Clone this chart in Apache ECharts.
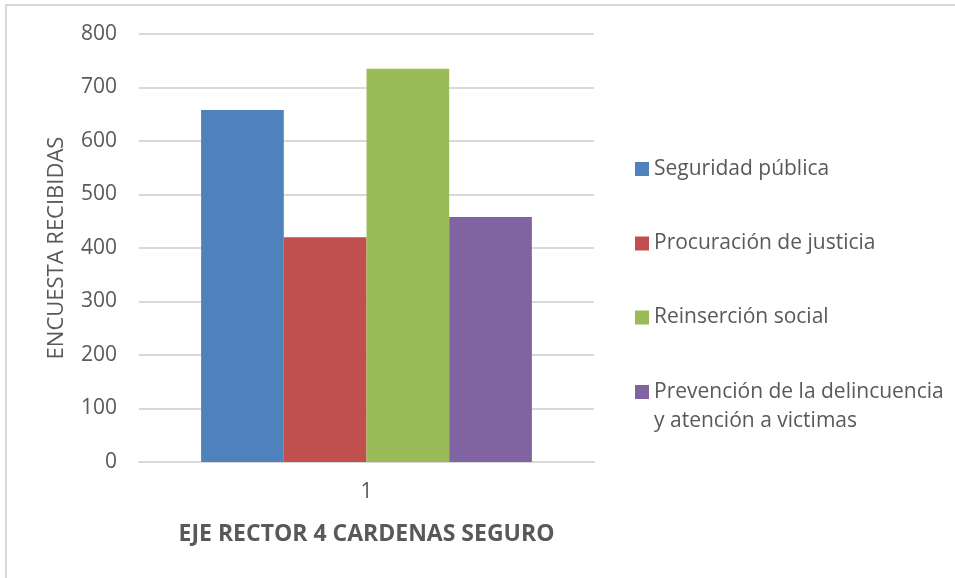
<!DOCTYPE html>
<html>
<head>
<meta charset="utf-8">
<script src="https://cdn.jsdelivr.net/npm/echarts@6/dist/echarts.min.js"></script>
<style>
html,body{margin:0;padding:0;background:#fff;}
#chart{width:955px;height:578px;}
</style>
</head>
<body>
<div id="chart"></div>
<script>
var categories = ['1'];
var seriesNames = ['Seguridad pública', 'Procuración de justicia', 'Reinserción social', 'Prevención de la delincuencia\ny atención a victimas'];
var seriesValues = [658, 420, 735, 458];
var seriesColors = ['#4f81bd', '#c0504d', '#9bbb59', '#8064a2'];
var yTicks = [0, 100, 200, 300, 400, 500, 600, 700, 800];
var xTitle = 'EJE RECTOR 4 CARDENAS SEGURO';
var yTitle = 'ENCUESTA RECIBIDAS';

var FONT = 'Open Sans';
var chart = echarts.init(document.getElementById('chart'));
var legendTops = [154.5, 229, 303, 348.5];
var option = {
  backgroundColor: '#fff',
  animation: false,
  graphic: [{
    type: 'rect', silent: true,
    shape: {x: 6, y: 5, width: 1200, height: 1200},
    style: {fill: 'none', stroke: '#d9d9d9', lineWidth: 2}
  }, {
    type: 'text', silent: true,
    x: 57, y: 248, rotation: Math.PI / 2,
    style: {text: yTitle, fontFamily: FONT, fontSize: 22, fill: '#595959', align: 'center', verticalAlign: 'middle'}
  }],
  grid: {left: 139, right: 361, top: 34, bottom: 116},
  legend: seriesNames.map(function (n, i) {
    return {
      data: [n], orient: 'vertical', left: 635, top: legendTops[i],
      itemWidth: 14, itemHeight: 14, icon: 'rect', padding: 0,
      formatter: function (name) { return i === 3 ? ' \n' + name : name; },
      textStyle: {fontFamily: FONT, fontSize: 21, color: '#595959', lineHeight: 29}
    };
  }),
  xAxis: {
    type: 'category', data: categories,
    name: xTitle, nameLocation: 'middle', nameGap: 61,
    nameTextStyle: {fontFamily: FONT, fontSize: 23, fontWeight: 'bold', color: '#595959'},
    axisLine: {lineStyle: {color: '#d9d9d9', width: 2}},
    axisTick: {show: false},
    axisLabel: {fontFamily: FONT, fontSize: 21, color: '#595959', margin: 20}
  },
  yAxis: {
    type: 'value', min: 0, max: 800, interval: 100,
    axisLine: {show: false}, axisTick: {show: false},
    splitLine: {lineStyle: {color: '#d9d9d9', width: 2}},
    axisLabel: {fontFamily: FONT, fontSize: 21, color: '#595959', margin: 22,
      formatter: function (v) { return yTicks.indexOf(v) >= 0 ? String(v) : ''; }}
  },
  series: seriesNames.map(function (n, i) {
    return {
      type: 'bar', name: n, data: [seriesValues[i]],
      itemStyle: {color: seriesColors[i]},
      barGap: '0%', barCategoryGap: '27.3%'
    };
  })
};
chart.setOption(option);
</script>
</body>
</html>
